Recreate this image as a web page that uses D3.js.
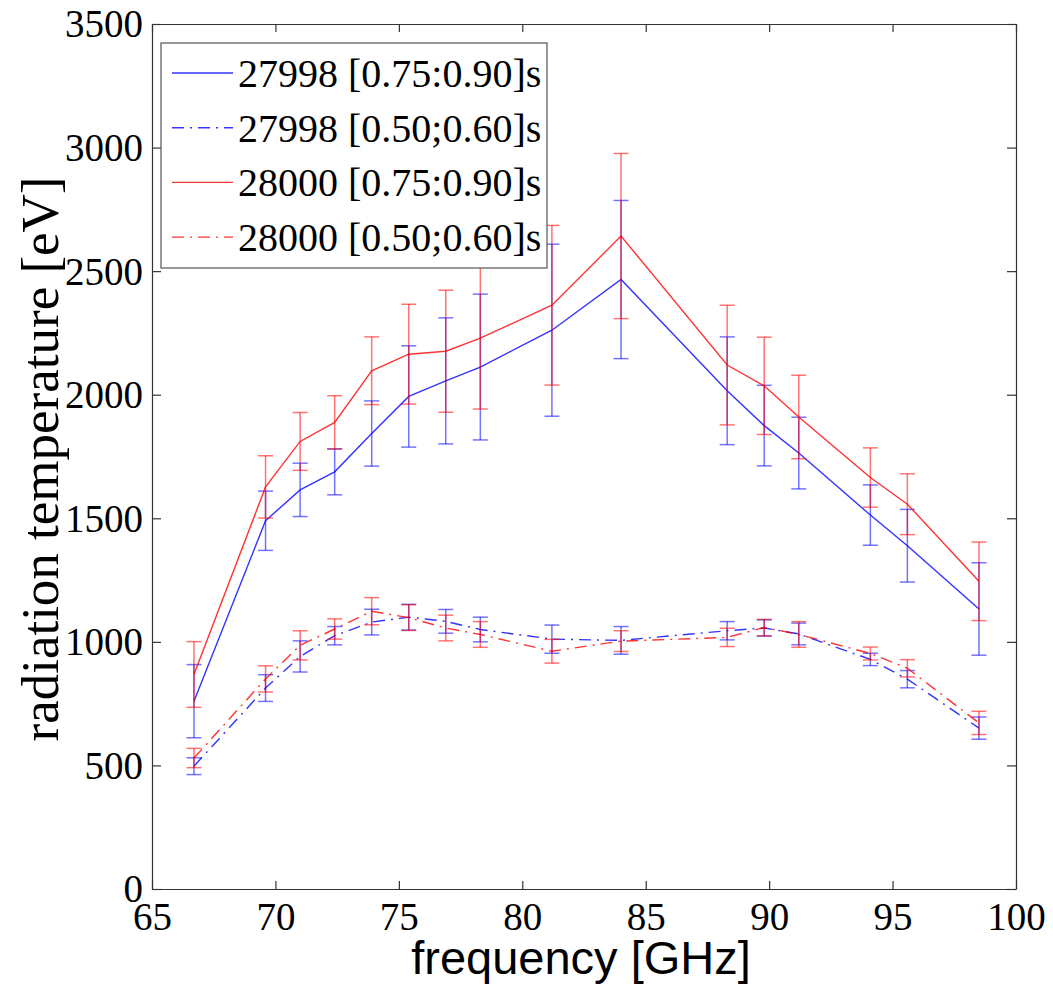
<!DOCTYPE html>
<html>
<head>
<meta charset="utf-8">
<title></title>
<style>
body { margin: 0; background: #fff; }
text { fill: #000; }
.tick-label { font: 39px "Liberation Serif", "Times New Roman", serif; }
.legend-label { font: 40px "Liberation Serif", "Times New Roman", serif; }
</style>
</head>
<body>
<script src="https://d3js.org/d3.v7.min.js"></script>
<script>

// frequencies of the ECE channels [GHz]
var freq = [66.7, 69.6, 71.0, 72.4, 73.9, 75.4, 76.9, 78.3, 81.2, 84.0, 88.3, 89.8, 91.2, 94.1, 95.6, 98.5];

// 27998 [0.75:0.90]s
var late27998 = [760, 1490, 1615, 1688, 1843, 1993, 2056, 2112, 2261, 2466, 2016, 1875, 1764, 1513, 1389, 1133];
var late27998Err = [148, 120, 108, 93, 132, 205, 255, 295, 348, 320, 218, 163, 145, 122, 147, 187];

// 27998 [0.50;0.60]s
var early27998 = [497, 813, 941, 1025, 1080, 1100, 1083, 1050, 1011, 1006, 1045, 1056, 1032, 929, 849, 651];
var early27998Err = [34, 54, 63, 37, 52, 52, 48, 50, 57, 56, 37, 33, 44, 25, 35, 45];

// 28000 [0.75:0.90]s
var late28000 = [868, 1627, 1811, 1888, 2097, 2164, 2176, 2229, 2362, 2642, 2120, 2036, 1910, 1665, 1557, 1245];
var late28000Err = [133, 126, 117, 108, 137, 202, 247, 287, 323, 334, 242, 197, 169, 120, 123, 159];

// 28000 [0.50;0.60]s
var early28000 = [530, 850, 986, 1052, 1124, 1098, 1056, 1030, 962, 1003, 1018, 1058, 1030, 953, 893, 672];
var early28000Err = [39, 53, 59, 41, 55, 52, 52, 52, 48, 42, 37, 33, 52, 26, 35, 47];

var xTicks = [65, 70, 75, 80, 85, 90, 95, 100];
var yTicks = [0, 500, 1000, 1500, 2000, 2500, 3000, 3500];

var series = [
  {name: "27998 [0.75:0.90]s", y: late27998, err: late27998Err, color: "#0000ff", dash: null},
  {name: "27998 [0.50;0.60]s", y: early27998, err: early27998Err, color: "#0000ff", dash: "12,6,2,6"},
  {name: "28000 [0.75:0.90]s", y: late28000, err: late28000Err, color: "#ff0000", dash: null},
  {name: "28000 [0.50;0.60]s", y: early28000, err: early28000Err, color: "#ff0000", dash: "12,6,2,6"}
];

(function() {

var width = 1053,
    height = 992;

var mLeft = 152, mRight = 1016, mTop = 24, mBottom = 889;

var x = d3.scaleLinear().domain([65, 100]).range([mLeft, mRight]);
var y = d3.scaleLinear().domain([0, 3500]).range([mBottom, mTop]);

var svg = d3.select("body").append("svg")
    .attr("width", width)
    .attr("height", height);

// data: error bars then lines
var plot = svg.append("g");

series.forEach(function(s) {
  var pts = freq.map(function(f, i) { return {f: f, v: s.y[i], e: s.err[i]}; });
  var g = plot.append("g")
      .attr("stroke", s.color)
      .attr("fill", "none");

  var bars = g.selectAll(".bar")
      .data(pts)
      .enter().append("g")
      .attr("stroke-opacity", 0.55)
      .attr("stroke-width", 1.5);

  bars.append("line")
      .attr("x1", function(d) { return x(d.f); })
      .attr("x2", function(d) { return x(d.f); })
      .attr("y1", function(d) { return y(d.v - d.e); })
      .attr("y2", function(d) { return y(d.v + d.e); });

  [-1, 1].forEach(function(sgn) {
    bars.append("line")
        .attr("x1", function(d) { return x(d.f) - 7.5; })
        .attr("x2", function(d) { return x(d.f) + 7.5; })
        .attr("y1", function(d) { return y(d.v + sgn * d.e); })
        .attr("y2", function(d) { return y(d.v + sgn * d.e); });
  });

  g.append("path")
      .datum(pts)
      .attr("stroke-opacity", 0.8)
      .attr("stroke-width", 1.4)
      .attr("stroke-dasharray", s.dash)
      .attr("d", d3.line()
          .x(function(d) { return x(d.f); })
          .y(function(d) { return y(d.v); }));
});

// axes box with inward ticks on all sides
var axisColor = "#333";
var fmt = d3.format("d");

var xb = svg.append("g").attr("transform", "translate(0," + mBottom + ")")
    .call(d3.axisBottom(x).tickValues(xTicks).tickFormat(fmt).tickSizeInner(-8).tickSizeOuter(0));
var xt = svg.append("g").attr("transform", "translate(0," + mTop + ")")
    .call(d3.axisTop(x).tickValues(xTicks).tickSizeInner(-8).tickSizeOuter(0).tickFormat(""));
var yl = svg.append("g").attr("transform", "translate(" + mLeft + ",0)")
    .call(d3.axisLeft(y).tickValues(yTicks).tickFormat(fmt).tickSizeInner(-9).tickSizeOuter(0));
var yr = svg.append("g").attr("transform", "translate(" + mRight + ",0)")
    .call(d3.axisRight(y).tickValues(yTicks).tickSizeInner(-9).tickSizeOuter(0).tickFormat(""));

[xb, xt, yl, yr].forEach(function(a) {
  a.selectAll("path, line").attr("stroke", axisColor).attr("stroke-width", 1.2);
  a.selectAll("text").attr("class", "tick-label").attr("fill", "#000");
  a.attr("font-size", null).attr("font-family", null);
});

xb.selectAll("text").attr("dy", null).attr("y", 41);
yl.selectAll("text").attr("dy", "0.33em").attr("x", -9);

// x label
svg.append("text")
    .attr("x", (mLeft + mRight) / 2 - 3)
    .attr("y", 974)
    .attr("text-anchor", "middle")
    .style("font", "47px 'Liberation Sans', Arial, sans-serif")
    .text("frequency [GHz]");

// y label
svg.append("text")
    .attr("transform", "translate(58,459) rotate(-90)")
    .attr("text-anchor", "middle")
    .style("font", "53px 'Liberation Serif', 'Times New Roman', serif")
    .text("radiation temperature [eV]");

// legend
var legend = svg.append("g");

legend.append("rect")
    .attr("x", 161)
    .attr("y", 43)
    .attr("width", 386)
    .attr("height", 225)
    .attr("fill", "#fff")
    .attr("stroke", "#555")
    .attr("stroke-width", 1.2);

var rows = legend.selectAll(".row")
    .data(series)
    .enter().append("g")
    .attr("transform", function(d, i) { return "translate(0," + (73 + i * 54.7) + ")"; });

rows.append("line")
    .attr("x1", 172)
    .attr("x2", 233)
    .attr("stroke", function(d) { return d.color; })
    .attr("stroke-opacity", 0.8)
    .attr("stroke-width", 1.4)
    .attr("stroke-dasharray", function(d) { return d.dash; });

rows.append("text")
    .attr("class", "legend-label")
    .attr("x", 238)
    .attr("y", 14)
    .text(function(d) { return d.name; });

})();

</script>
</body>
</html>
